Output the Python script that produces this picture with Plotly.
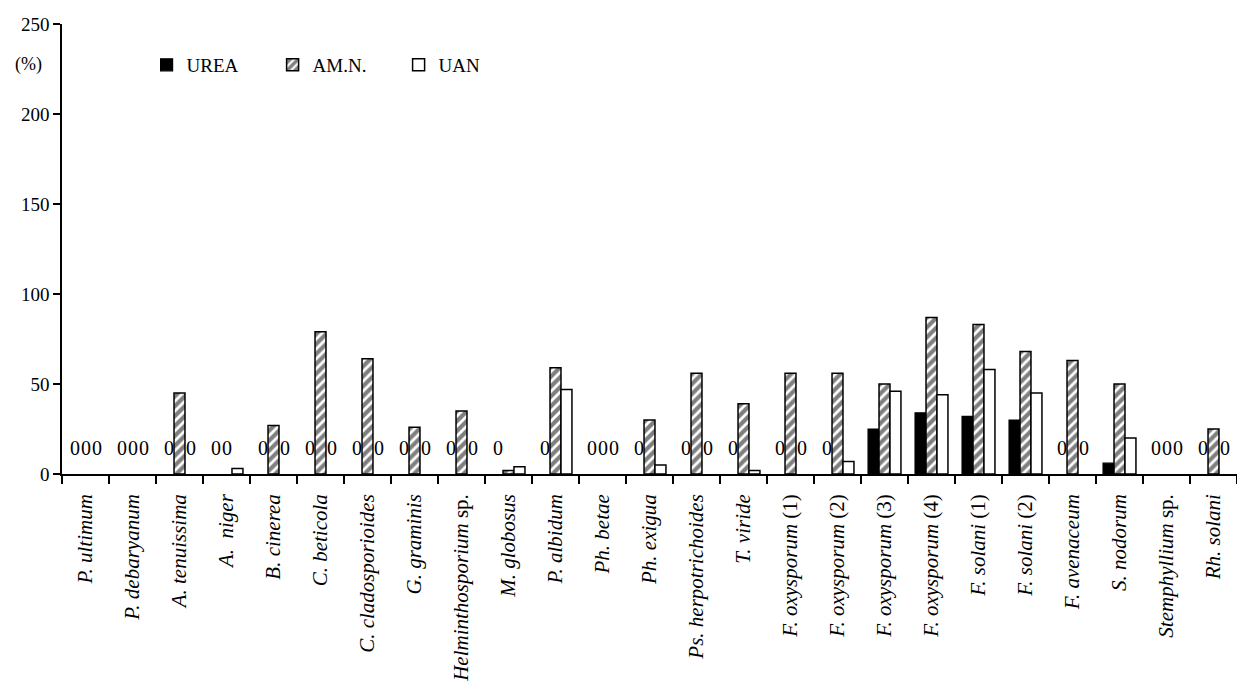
import plotly.graph_objects as go

categories = [
    "<i>P. ultimum</i>", "<i>P. debaryanum</i>", "<i>A. tenuissima</i>", "<i>A.  niger</i>",
    "<i>B. cinerea</i>", "<i>C. beticola</i>", "<i>C. cladosporioides</i>", "<i>G. graminis</i>",
    "<i>Helminthosporium</i> sp.", "<i>M. globosus</i>", "<i>P. albidum</i>", "<i>Ph. betae</i>",
    "<i>Ph. exigua</i>", "<i>Ps. herpotrichoides</i>", "<i>T. viride</i>",
    "<i>F. oxysporum</i> (1)", "<i>F. oxysporum</i> (2)", "<i>F. oxysporum</i> (3)",
    "<i>F. oxysporum</i> (4)", "<i>F. solani</i> (1)", "<i>F. solani</i> (2)",
    "<i>F. avenaceum</i>", "<i>S. nodorum</i>", "<i>Stemphyllium</i> sp.", "<i>Rh. solani</i>",
]
urea = [0, 0, 0, 0, 0, 0, 0, 0, 0, 0, 0, 0, 0, 0, 0, 0, 0, 25, 34, 32, 30, 0, 6, 0, 0]
amn  = [0, 0, 45, 0, 27, 79, 64, 26, 35, 2, 59, 0, 30, 56, 39, 56, 56, 50, 87, 83, 68, 63, 50, 0, 25]
uan  = [0, 0, 0, 3, 0, 0, 0, 0, 0, 4, 47, 0, 5, 0, 2, 0, 7, 46, 44, 58, 45, 0, 20, 0, 0]
y_ticks = [0, 50, 100, 150, 200, 250]


def nz(vals):
    # zero-height bars are not drawn (no outline), their value is shown as a "0" label
    return [v if v != 0 else None for v in vals]


FONT = "Liberation Serif"
fig = go.Figure()
fig.add_trace(go.Bar(name="UREA", x=categories, y=nz(urea),
                     marker=dict(color="black", line=dict(color="black", width=1.2))))
fig.add_trace(go.Bar(name="AM.N.", x=categories, y=nz(amn),
                     marker=dict(color="white", line=dict(color="black", width=1.5),
                                 pattern=dict(shape="/", fgcolor="black", bgcolor="white",
                                              size=7, solidity=0.6))))
fig.add_trace(go.Bar(name="UAN", x=categories, y=nz(uan),
                     marker=dict(color="white", line=dict(color="black", width=1.5))))

# zero-value data labels
offsets = [-11, 0, 11]
for series, dx in zip([urea, amn, uan], offsets):
    for cat, v in zip(categories, series):
        if v == 0:
            fig.add_annotation(x=cat, y=v, xref="x", yref="y", text="0", showarrow=False,
                               xshift=dx, yshift=26, yanchor="middle",
                               font=dict(family=FONT, size=20, color="black"))

fig.add_annotation(xref="paper", yref="paper", x=0, y=0.909, xshift=-34, text="(%)",
                   showarrow=False, xanchor="center", yanchor="middle",
                   font=dict(family=FONT, size=18, color="black"))

fig.update_layout(
    width=1237, height=691,
    margin=dict(l=62, r=0, t=24, b=217),
    plot_bgcolor="white", paper_bgcolor="white",
    barmode="group", bargap=0.3, bargroupgap=0,
    font=dict(family=FONT, size=18, color="black"),
    showlegend=True,
    legend=dict(orientation="h", x=0.072, y=0.909, xanchor="left", yanchor="middle",
                entrywidth=81, entrywidthmode="pixels", bgcolor="rgba(0,0,0,0)",
                font=dict(family=FONT, size=19), itemwidth=30, tracegroupgap=0),
    xaxis=dict(showline=True, linecolor="black", linewidth=1.5, ticks="outside",
               tickson="boundaries", ticklen=8, tickwidth=1.5, tickcolor="black",
               tickangle=-90, tickfont=dict(family=FONT, size=21), showgrid=False,
               ticklabelstandoff=10),
    yaxis=dict(range=[0, 250], tickvals=y_ticks, showline=True, linecolor="black",
               linewidth=1.5, ticks="outside", ticklen=7, tickwidth=1.5, tickcolor="black",
               showgrid=False, zeroline=False, tickfont=dict(family=FONT, size=19)),
)
fig.write_html("out.html", config={"displayModeBar": False},
               post_script="document.body.style.margin='0';")
